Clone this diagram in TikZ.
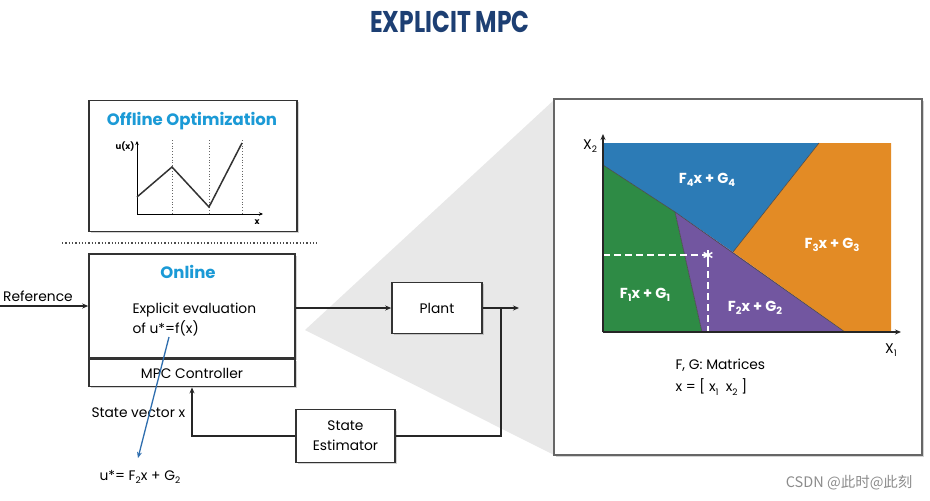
\documentclass[tikz,border=0pt]{standalone}
\usepackage{fontspec}
\setmainfont{Poppins}
\newfontfamily\cjk{Noto Sans CJK SC}
\usetikzlibrary{positioning, arrows.meta, calc, shadows}
\definecolor{titleblue}{HTML}{1D3F73}
\definecolor{headblue}{HTML}{1B9AD6}
\definecolor{arrowblue}{HTML}{2F6EAE}
\definecolor{regblue}{HTML}{2C7BB6}
\definecolor{reggreen}{HTML}{2E8B45}
\definecolor{regpurple}{HTML}{7256A0}
\definecolor{regorange}{HTML}{E38B25}
\definecolor{wedge}{HTML}{E8E8E8}
\newcommand{\lowsub}[2][9]{\raisebox{-0.45ex}{\fontsize{#1}{#1}\selectfont #2}}

\begin{document}
\begin{tikzpicture}[x=1pt, y=-1pt,
  font=\fontsize{13.8}{16}\selectfont,
  block/.style={draw=black!80, line width=1.6pt, fill=white, align=center, inner sep=0pt,
    drop shadow={shadow xshift=1.5pt, shadow yshift=-1.5pt, opacity=0.35}},
  head/.style={text=headblue, font=\fontsize{16.5}{18}\selectfont\bfseries},
  region/.style={draw=black!70, line width=0.6pt},
  regtext/.style={text=white, font=\fontsize{14.5}{16}\selectfont\bfseries},
  wire/.style={draw=black!85, line width=1.3pt},
  >={Stealth[length=6pt, width=5pt]}
]
\useasboundingbox (0,0) rectangle (930,501);
% grey zoom wedge behind everything
\fill[wedge] (305,330) -- (554,100) -- (554,455) -- cycle;
\node[text=titleblue, font=\fontsize{30}{32}\selectfont\bfseries] (title) at (450,22) {\scalebox{0.78}[1]{EXPLICIT MPC}};
% offline part: sketch of u(x)
\node[block, minimum width=208pt, minimum height=131pt] (offline) at (193,166) {};
\node[head] (offtitle) at (192,121) {Offline Optimization};
\foreach \px in {172,209,242}
  \draw[black!60, dotted, line width=0.8pt] (\px,140) -- (\px,214);
\draw[line width=1pt, -{Stealth[length=4pt, width=3.5pt]}] (137,214) -- (137,141);
\draw[line width=1pt, -{Stealth[length=4pt, width=3.5pt]}] (137,214) -- (263,214);
\draw[line width=1.5pt, black!80] (137,197) -- (172,167) -- (209,207) -- (242,143);
\node[font=\fontsize{8.5}{9}\selectfont\bfseries] (ulabel) at (125,147) {u(x)};
\node[font=\fontsize{8.5}{9}\selectfont\bfseries] (xlabel) at (257,222) {x};
\draw[dotted, line width=1.3pt, black!70] (62,243) -- (318,243);
% online part: controller
\node[block, minimum width=206pt, minimum height=104pt] (online) at (192,306) {};
\node[block, minimum width=206pt, minimum height=27pt, below=0pt of online] (mpc) {MPC Controller};
\node[head] (ontitle) at (188,272) {Online};
\node[align=left, anchor=west, font=\fontsize{13.8}{20}\selectfont] (evaltext) at (129,320) {Explicit evaluation\\of u*=f(x)};
\node[anchor=south west, inner sep=1pt] (reftext) at (2,303) {Reference};
\coordinate (refin) at (0,306);
\draw[wire, ->] (refin) -- (online.west);
% plant and estimator loop
\node[block, minimum width=90pt, minimum height=51pt] (plant) at (437,308) {Plant};
\draw[wire, ->] (online.east |- plant.west) -- (plant.west);
\coordinate (out) at (519,308);
\draw[wire, ->] (plant.east) -- (out);
\coordinate (branch) at (501,308);
\node[block, minimum width=99pt, minimum height=53pt, font=\fontsize{13.8}{20}\selectfont] (est) at (345.5,436) {State\\Estimator};
\draw[wire] (branch) |- (est.east);
\draw[wire, ->] (est.west) -| (mpc.south);
\node[anchor=west] (svec) at (88,413) {State vector x};
\node[anchor=west] (ulaw) at (96,477) {u*= F\lowsub{2}x + G\lowsub{2}};
\coordinate (ustart) at (169,337);
\coordinate (utip) at (138,458);
\draw[line width=1.3pt, arrowblue, ->] (ustart) -- (utip);
% zoomed view: regions of the state space
\node[block, draw=black!60, line width=1.3pt, minimum width=368pt, minimum height=356pt] (zoombox) at (738,277) {};
\fill[regblue] (603,143) -- (819,143) -- (733,252) -- (675,212) -- (603,165) -- cycle;
\fill[reggreen] (603,165) -- (675,212) -- (702,332) -- (603,332) -- cycle;
\fill[regpurple] (675,212) -- (733,252) -- (845,332) -- (702,332) -- cycle;
\fill[regorange] (819,143) -- (891,143) -- (891,332) -- (845,332) -- (733,252) -- cycle;
\draw[region] (603,165) -- (675,212) -- (845,332);
\draw[region] (675,212) -- (702,332);
\draw[region] (733,252) -- (819,143);
\draw[white, line width=1.5pt, dash pattern=on 7pt off 4pt] (603,255) -- (708,255) -- (708,332);
\foreach \a in {90,30,150}
  \draw[white, line width=1.5pt] ($(708,255)+(\a:5pt)$) -- ($(708,255)+(\a+180:5pt)$);
\draw[line width=1.6pt, black!85, ->] (603,332) -- (603,134);
\draw[line width=1.6pt, black!85, ->] (603,332) -- (901,332);
\node[font=\fontsize{14}{16}\selectfont] (x2lab) at (590,146) {X\lowsub{2}};
\node[font=\fontsize{14}{16}\selectfont] (x1lab) at (891,350) {X\lowsub{1}};
\node[regtext] (r4) at (707,180) {F\lowsub[10]{4}x + G\lowsub[10]{4}};
\node[regtext] (r3) at (832,245) {F\lowsub[10]{3}x + G\lowsub[10]{3}};
\node[regtext] (r1) at (645,295) {F\lowsub[10]{1}x + G\lowsub[10]{1}};
\node[regtext] (r2) at (755,308) {F\lowsub[10]{2}x + G\lowsub[10]{2}};
\node[anchor=west] (fgtext) at (672,365) {F, G: Matrices};
\node[anchor=west] (xvec) at (672,387) {x = [ x\lowsub{1}\ \ x\lowsub{2} ]};
\node[text=black!45, font=\cjk\fontsize{14.5}{16}\selectfont, anchor=east] (mark) at (916,483) {CSDN @此时@此刻};
\end{tikzpicture}
\end{document}
